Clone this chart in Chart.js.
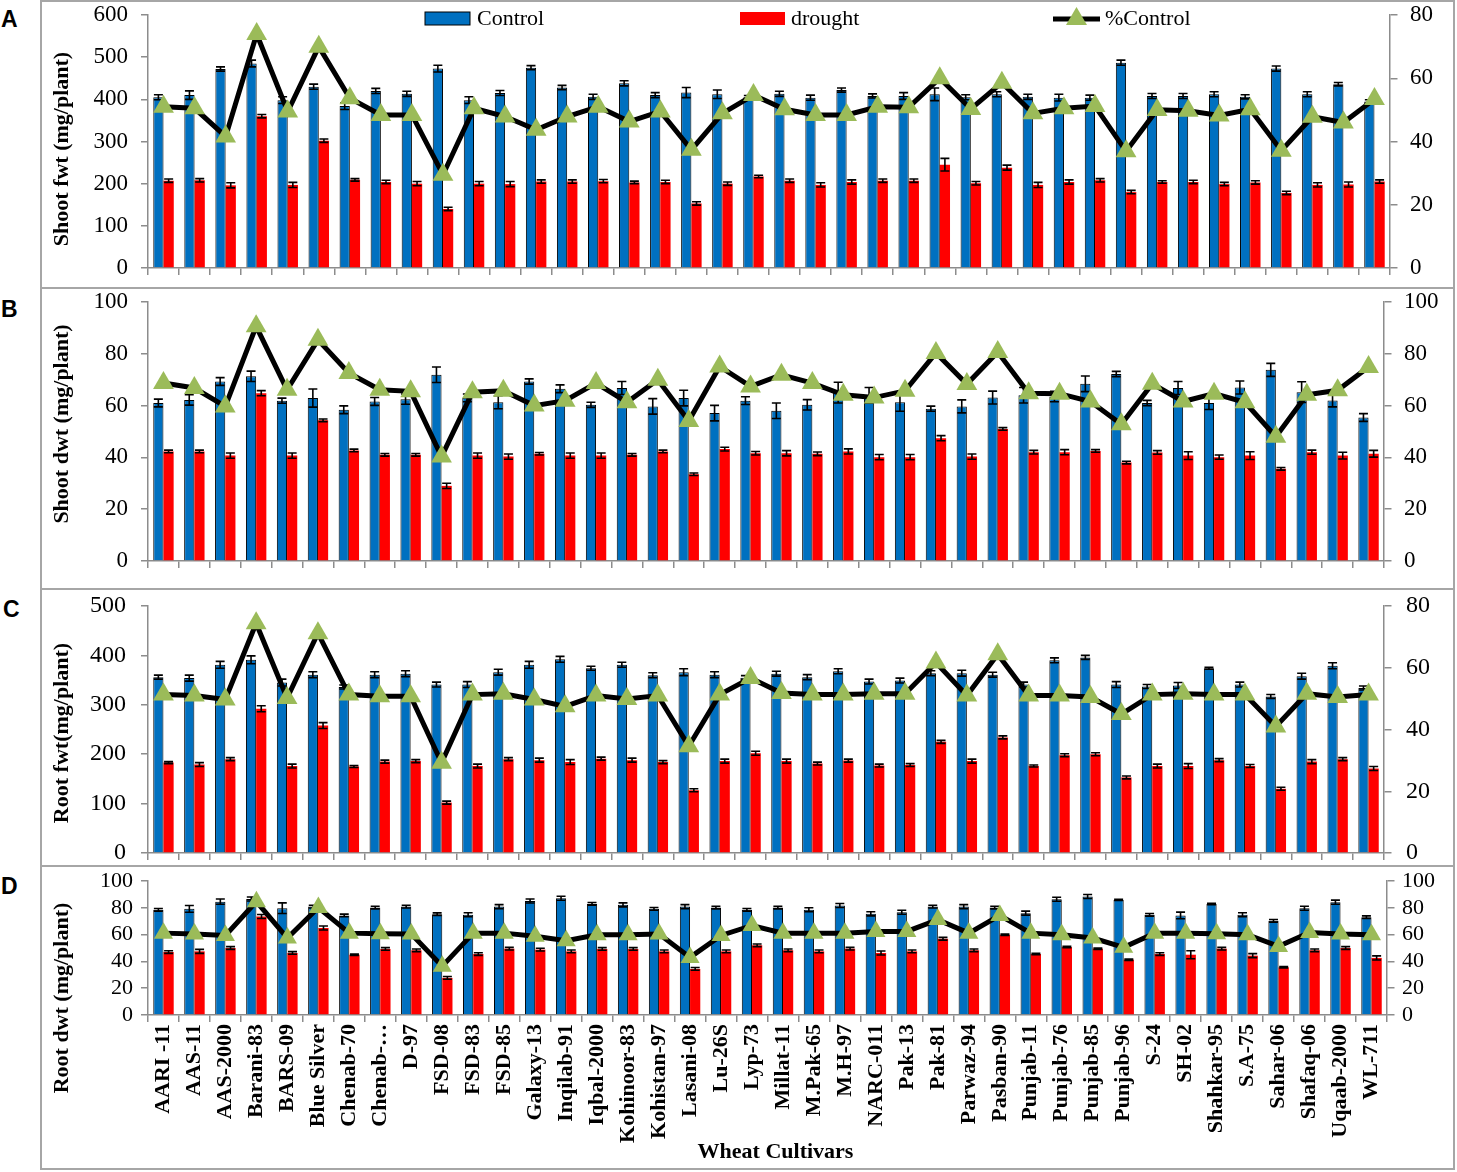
<!DOCTYPE html>
<html>
<head>
<meta charset="utf-8">
<script src="https://cdn.jsdelivr.net/npm/chart.js@4.4.1/dist/chart.umd.min.js"></script>
<style>
  body { margin: 0; background: #fff; width: 1457px; height: 1172px; position: relative; overflow: hidden; }
  .box { position: absolute; left: 40px; width: 1415px; border: 2px solid #a6a6a6; box-sizing: border-box; }
  canvas { position: absolute; left: 41px; }
  .lab { position: absolute; left: 1px; font: bold 23px "Liberation Sans", Arial, sans-serif; }
</style>
</head>
<body>
<div class="box" style="top:0;height:289px"></div>
<div class="box" style="top:287px;height:303px"></div>
<div class="box" style="top:588px;height:279px"></div>
<div class="box" style="top:865px;height:305px"></div>
<div class="lab" style="top:6px">A</div>
<div class="lab" style="top:296px">B</div>
<div class="lab" style="top:596px;left:3px">C</div>
<div class="lab" style="top:873px">D</div>
<canvas id="chartA" width="1416" height="288" style="top:0"></canvas>
<canvas id="chartB" width="1416" height="300" style="top:288px"></canvas>
<canvas id="chartC" width="1416" height="278" style="top:588px"></canvas>
<canvas id="chartD" width="1416" height="306" style="top:866px"></canvas>
<script>
var cultivars = ["AARI -11", "AAS-11", "AAS-2000", "Barani-83", "BARS-09", "Blue Silver", "Chenab-70", "Chenab-\u2026",
  "D-97", "FSD-08", "FSD-83", "FSD-85", "Galaxy-13", "Inqilab-91", "Iqbal-2000", "Kohinoor-83", "Kohistan-97",
  "Lasani-08", "Lu-26S", "Lyp-73", "Millat-11", "M.Pak-65", "M.H-97", "NARC-011", "Pak-13", "Pak-81", "Parwaz-94",
  "Pasban-90", "Punjab-11", "Punjab-76", "Punjab-85", "Punjab-96", "S-24", "SH-02", "Shahkar-95", "S.A-75",
  "Sahar-06", "Shafaq-06", "Uqaab-2000", "WL-711"];

// A: shoot fresh weight
var shootFwtControl = [405, 410, 472, 485, 398, 430, 384, 420, 413, 473, 398, 415, 475, 428, 406, 438, 410, 416, 412, 405,
  413, 404, 422, 408, 408, 412, 405, 412, 406, 404, 404, 487, 408, 408, 412, 406, 473, 412, 436, 395];
var shootFwtDrought = [207, 208, 196, 360, 197, 302, 209, 204, 200, 140, 200, 199, 205, 205, 206, 203, 204, 153, 200, 217,
  207, 197, 204, 207, 207, 245, 201, 238, 197, 204, 208, 180, 204, 204, 199, 203, 178, 197, 198, 205];
var shootFwtPct = [51, 50.5, 41.6, 74, 49.5, 70, 53.7, 48.4, 48.4, 29.5, 50.5, 47.9, 43.7, 47.9, 51, 46.3, 49.5, 37.4, 48.9, 54.7,
  50.2, 48.4, 48.4, 51, 50.8, 60, 50.3, 58.6, 48.9, 50.5, 51.2, 36.9, 50, 49.7, 48.2, 50.2, 37.1, 47.8, 46, 53.4];
var shootFwtErrC = [6, 10, 5, 8, 8, 6, 8, 6, 6, 8, 8, 6, 5, 5, 6, 6, 6, 12, 10, 4, 6, 6, 5, 5, 8, 15, 6, 6, 6, 8,
  6, 6, 6, 6, 6, 5, 6, 6, 4, 4];
var shootFwtErrD = [4, 4, 6, 4, 6, 4, 3, 4, 5, 4, 5, 6, 4, 4, 4, 3, 4, 4, 4, 3, 4, 5, 5, 4, 4, 15, 4, 6, 6, 5,
  4, 4, 3, 4, 4, 4, 4, 5, 6, 4];

// B: shoot dry weight
var shootDwtControl = [61, 62.2, 69.3, 71.3, 61.9, 62.9, 58.4, 61.6, 62.5, 71.9, 63, 61.3, 69.3, 66.5, 60.3, 66.8, 59.7, 62.9, 57.1, 61.9,
  58, 60.3, 65, 64, 61.3, 58.8, 59.7, 63.1, 64, 63.5, 68.4, 72.2, 61, 66.8, 61, 67, 73.8, 65.2, 62, 55.4];
var shootDwtDrought = [42.3, 42.3, 40.7, 64.8, 40.7, 54.3, 42.7, 41, 41, 29, 40.7, 40.3, 41.4, 40.7, 40.7, 41, 42.3, 33.5, 43.2, 41.6,
  41.6, 41.4, 42.3, 40.1, 40.1, 47.4, 40.3, 51, 42, 42, 42.5, 38, 41.9, 40.7, 40.1, 40.7, 35.6, 42, 40.7, 41.4];
var shootDwtPct = [68.7, 66.8, 59.7, 90.6, 66.1, 85.4, 72.6, 66.1, 65.5, 40.3, 65.2, 65.7, 60, 61.9, 68.7, 61.3, 70, 54.1, 75.1, 67.4,
  71.9, 68.7, 64.2, 63.1, 65.7, 80.3, 68.3, 80.7, 64.8, 64.6, 61.6, 52.8, 68.4, 61.6, 64.6, 61.3, 48, 64.2, 65.9, 74.9];
var shootDwtErrC = [1.5, 2, 1.5, 2, 1, 3.5, 1.5, 1.5, 2, 3, 1.5, 2.5, 1, 1.5, 1, 2.5, 3, 3, 3, 1.5,
  3, 2, 4, 3, 3.5, 1, 2.5, 2.5, 3, 2, 3, 1, 1, 2.5, 2.5, 2.5, 2.5, 4, 2.5, 1.5];
var shootDwtErrD = [0.5, 0.5, 1, 1, 1, 0.5, 0.5, 0.5, 0.5, 1, 1, 1, 0.5, 1, 1, 0.5, 0.5, 0.5, 0.7, 0.7,
  1, 0.7, 1, 1, 1, 1, 1, 0.5, 0.7, 1, 0.5, 0.5, 0.7, 1.5, 0.8, 1.5, 0.5, 0.8, 1.3, 1.3];

// C: root fresh weight
var rootFwtControl = [356, 354, 381, 391, 345, 361, 336, 361, 363, 341, 341, 366, 381, 392, 374, 381, 360, 366, 361, 355,
  363, 356, 368, 347, 349, 364, 364, 361, 341, 390, 396, 341, 337, 339, 374, 341, 317, 358, 379, 334];
var rootFwtDrought = [183, 179, 190, 292, 176, 258, 175, 185, 186, 102, 176, 190, 188, 184, 191, 188, 184, 127, 186, 202,
  186, 181, 187, 177, 178, 225, 186, 234, 176, 198, 200, 153, 176, 176, 188, 176, 130, 185, 190, 171];
var rootFwtPct = [51.3, 51, 49.7, 74.4, 50.2, 71.2, 51.3, 50.8, 50.8, 29.2, 51.3, 51.6, 49.7, 47.5, 51, 49.9, 51, 34.6, 51.3, 56.7,
  51.8, 51.3, 51.3, 51.6, 51.6, 61.7, 51, 64.4, 51, 51, 50.5, 45, 51.3, 51.6, 51.3, 51.3, 41, 51.6, 50.5, 51.3];
var rootFwtErrC = [4, 6, 7, 8, 7, 6, 4, 6, 6, 5, 6, 6, 7, 6, 4, 5, 5, 7, 6, 4,
  5, 5, 5, 5, 5, 5, 6, 5, 5, 5, 4, 6, 4, 6, 2, 5, 4, 6, 6, 4];
var rootFwtErrD = [2, 4, 3, 6, 4, 6, 2, 3, 3, 3, 4, 3, 4, 5, 3, 4, 3, 3, 4, 4,
  4, 3, 3, 3, 3, 3, 4, 3, 2, 3, 3, 3, 4, 5, 3, 3, 3, 4, 3, 4];

// D: root dry weight
var rootDwtControl = [78.5, 79.2, 84.6, 86.6, 79.7, 80.9, 74.3, 80.2, 80.9, 75.2, 74.8, 80.9, 85.1, 87.1, 82.9, 82.2, 79.2, 80.9, 80.2, 78.5,
  80.2, 78.5, 81.7, 75.5, 76.7, 80.9, 80.9, 80.2, 76, 86.4, 88.4, 85.9, 74.8, 74.3, 82.9, 74.8, 70.3, 79.7, 84.2, 73];
var rootDwtDrought = [47, 47.5, 50, 73.5, 46.3, 64.9, 45, 49.3, 48.3, 27.7, 45.5, 49.5, 48.8, 47.5, 49.3, 49.3, 47.5, 34.4, 47.5, 52,
  48.3, 47.5, 49.5, 46.3, 47.5, 56.9, 48.3, 59.9, 45.5, 50.7, 49.5, 41.3, 45.5, 45, 49.5, 44.3, 35.6, 48.3, 50, 42.6];
var rootDwtPct = [61.1, 60.4, 59.4, 84.6, 57.4, 80.2, 61.1, 60.6, 60.4, 36.4, 61.1, 61.1, 58.7, 55.4, 59.9, 59.9, 60.4, 43, 59.4, 66.8,
  61.1, 61.1, 61.1, 62.4, 62.4, 71.2, 61.1, 74.3, 61.1, 59.9, 57.4, 50.5, 61.1, 61.1, 60.6, 59.9, 51.2, 61.6, 60.4, 59.9];
var rootDwtErrC = [1, 2.5, 2, 1.5, 4, 1, 1, 1, 1, 1, 1.5, 1.5, 1.5, 1.5, 1, 1.5, 1, 1.5, 1, 1,
  1, 1.5, 1.5, 1.5, 1.5, 1, 1.5, 1, 1.5, 1.5, 1.5, 0.5, 1, 2.5, 0.5, 1.5, 1, 1.5, 1.5, 1];
var rootDwtErrD = [1, 1.5, 1, 1.5, 1, 1.5, 0.5, 1, 1, 1, 1, 1, 1, 1, 1, 1, 1, 1, 1, 1,
  1, 1, 1, 1.5, 1, 1, 1, 0.5, 0.5, 0.5, 0.5, 0.5, 1, 3, 1, 1.5, 0.5, 1, 1, 1.5];

var BLUE = "#0070C0", RED = "#FF0000", GREEN = "#9BBB59", AXIS = "#8c8c8c";
var SERIF = "Liberation Serif";
var NARROW = "Liberation Sans Narrow";

Chart.defaults.font.family = SERIF;
Chart.defaults.color = "#000";

// black error bars drawn right after each bar dataset, before the line goes on top
var errorBars = {
  id: "errorBars",
  afterDatasetDraw: function(chart, args) {
    var ds = chart.data.datasets[args.index];
    if (!ds.err) return;
    var ctx = chart.ctx, y = chart.scales.y;
    ctx.save();
    ctx.strokeStyle = "#000";
    ctx.lineWidth = 1.6;
    args.meta.data.forEach(function(bar, i) {
      var top = y.getPixelForValue(ds.data[i] + ds.err[i]);
      var bot = y.getPixelForValue(ds.data[i] - ds.err[i]);
      var w = 4.5;
      ctx.beginPath();
      ctx.moveTo(bar.x, top); ctx.lineTo(bar.x, bot);
      ctx.moveTo(bar.x - w, top); ctx.lineTo(bar.x + w, top);
      ctx.moveTo(bar.x - w, bot); ctx.lineTo(bar.x + w, bot);
      ctx.stroke();
    });
    ctx.restore();
  }
};

// legend of panel A, spread across the top of the plot
var topLegend = {
  id: "topLegend",
  afterDraw: function(chart, args, opts) {
    if (!opts.show) return;
    var ctx = chart.ctx, ds = chart.data.datasets;
    var yc = 19;
    ctx.save();
    ctx.font = "22px " + SERIF;
    ctx.textBaseline = "middle";
    // Control
    ctx.fillStyle = ds[1].backgroundColor;
    ctx.fillRect(384, 12, 45, 13);
    ctx.strokeStyle = "#000"; ctx.lineWidth = 1;
    ctx.strokeRect(384, 12, 45, 13);
    ctx.fillStyle = "#000";
    ctx.fillText(ds[1].label, 436, yc);
    // drought
    ctx.fillStyle = ds[2].backgroundColor;
    ctx.fillRect(699, 12, 45, 13);
    ctx.fillStyle = "#000";
    ctx.fillText(ds[2].label, 750, yc);
    // %Control
    ctx.strokeStyle = ds[0].borderColor; ctx.lineWidth = 5;
    ctx.beginPath(); ctx.moveTo(1012, yc); ctx.lineTo(1059, yc); ctx.stroke();
    ctx.fillStyle = ds[0].pointBackgroundColor;
    ctx.beginPath();
    ctx.moveTo(1035.5, yc - 12); ctx.lineTo(1046, yc + 6); ctx.lineTo(1025, yc + 6);
    ctx.closePath(); ctx.fill();
    ctx.fillStyle = "#000";
    ctx.fillText(ds[0].label, 1064, yc);
    ctx.restore();
  }
};

// rotated y title and the x title of the bottom panel
var titles = {
  id: "titles",
  afterDraw: function(chart, args, opts) {
    var ctx = chart.ctx, a = chart.chartArea;
    ctx.save();
    ctx.font = "bold 22px " + SERIF;
    ctx.textAlign = "center";
    ctx.textBaseline = "middle";
    ctx.fillStyle = "#000";
    ctx.translate(21, opts.yCenter);
    ctx.rotate(-Math.PI / 2);
    ctx.fillText(opts.yText, 0, 0);
    ctx.restore();
    if (opts.xText) {
      ctx.save();
      ctx.font = "bold 22px " + SERIF;
      ctx.textAlign = "center";
      ctx.textBaseline = "middle";
      ctx.fillStyle = "#000";
      ctx.fillText(opts.xText, (a.left + a.right) / 2 + 8, chart.height - 20);
      ctx.restore();
    }
  }
};

function makePanel(id, cfg) {
  var tickFont = { family: cfg.tickFamily || SERIF, size: cfg.tickSize || 23, weight: "normal", lineHeight: 1 };
  // a 7px tick mark next to the axis; the rest of the (longer) tick is dashed away to push labels outwards
  var gap = cfg.tickGap || 19;
  var leftGrid = { drawOnChartArea: false, tickLength: gap, tickBorderDash: [0, gap - 7, 7, 60], color: AXIS, lineWidth: 1.5 };
  var rightGrid = { drawOnChartArea: false, tickLength: gap, tickBorderDash: [7, 60], color: AXIS, lineWidth: 1.5 };
  return new Chart(document.getElementById(id), {
    type: "bar",
    data: {
      labels: cultivars,
      datasets: [
        {
          type: "line", label: "%Control", data: cfg.pct, yAxisID: "y2", order: 0,
          borderColor: "#000", borderWidth: 5, tension: 0,
          pointStyle: "triangle", pointRadius: cfg.pointR || 12,
          pointBackgroundColor: GREEN, pointBorderColor: GREEN, pointBorderWidth: 0
        },
        { label: "Control", data: cfg.control, err: cfg.errC, yAxisID: "y", order: 1,
          backgroundColor: BLUE, borderColor: "#000", borderWidth: 1 },
        { label: "drought", data: cfg.drought, err: cfg.errD, yAxisID: "y", order: 2,
          backgroundColor: RED, borderWidth: 0 }
      ]
    },
    options: {
      responsive: false,
      animation: false,
      categoryPercentage: 0.66,
      barPercentage: 1.0,
      layout: { padding: { top: cfg.padTop, left: 0, right: 0, bottom: 0 } },
      plugins: {
        legend: { display: false },
        tooltip: { enabled: false },
        topLegend: { show: !!cfg.legend },
        titles: { yText: cfg.yTitle, yCenter: cfg.yCenter, xText: cfg.xTitle || "" }
      },
      scales: {
        x: {
          offset: true,
          grid: { offset: true, drawOnChartArea: false, drawTicks: true, tickLength: 7, color: AXIS, lineWidth: 1.5 },
          border: { color: AXIS, width: 1.5 },
          ticks: {
            display: !!cfg.showLabels, autoSkip: false, maxRotation: 90, minRotation: 90, padding: 2,
            font: { family: SERIF, size: 22, weight: "bold" }
          },
          afterFit: function(s) { s.height = cfg.xH; }
        },
        y: {
          position: "left", min: 0, max: cfg.leftMax,
          ticks: { stepSize: cfg.leftStep, font: tickFont, padding: 1, autoSkip: false },
          grid: leftGrid,
          border: { color: AXIS, width: 1.5 },
          afterFit: function(s) { s.width = 107; }
        },
        y2: {
          position: "right", min: 0, max: cfg.rightMax,
          ticks: { stepSize: cfg.rightStep, font: tickFont, padding: 1, autoSkip: false },
          grid: rightGrid,
          border: { color: AXIS, width: 1.5 },
          afterFit: function(s) { s.width = cfg.rightW; }
        }
      }
    },
    plugins: [errorBars, topLegend, titles]
  });
}

makePanel("chartA", {
  control: shootFwtControl, drought: shootFwtDrought, pct: shootFwtPct, errC: shootFwtErrC, errD: shootFwtErrD,
  leftMax: 600, leftStep: 100, rightMax: 80, rightStep: 20,
  padTop: 15, xH: 20, rightW: 67, yTitle: "Shoot fwt (mg/plant)", yCenter: 149, legend: true
});
makePanel("chartB", {
  control: shootDwtControl, drought: shootDwtDrought, pct: shootDwtPct, errC: shootDwtErrC, errD: shootDwtErrD,
  leftMax: 100, leftStep: 20, rightMax: 100, rightStep: 20,
  padTop: 14, xH: 27, rightW: 73, yTitle: "Shoot dwt (mg/plant)", yCenter: 136
});
makePanel("chartC", {
  control: rootFwtControl, drought: rootFwtDrought, pct: rootFwtPct, errC: rootFwtErrC, errD: rootFwtErrD,
  leftMax: 500, leftStep: 100, rightMax: 80, rightStep: 20,
  padTop: 18, xH: 12, rightW: 73, yTitle: "Root fwt(mg/plant)", yCenter: 145, tickFamily: NARROW, tickSize: 24,
  tickGap: 21
});
makePanel("chartD", {
  control: rootDwtControl, drought: rootDwtDrought, pct: rootDwtPct, errC: rootDwtErrC, errD: rootDwtErrD,
  leftMax: 100, leftStep: 20, rightMax: 100, rightStep: 20,
  padTop: 15, xH: 157, rightW: 70, yTitle: "Root dwt (mg/plant)", yCenter: 132, showLabels: true,
  tickSize: 22, tickGap: 14, pointR: 11, xTitle: "Wheat Cultivars"
});
</script>
</body>
</html>
